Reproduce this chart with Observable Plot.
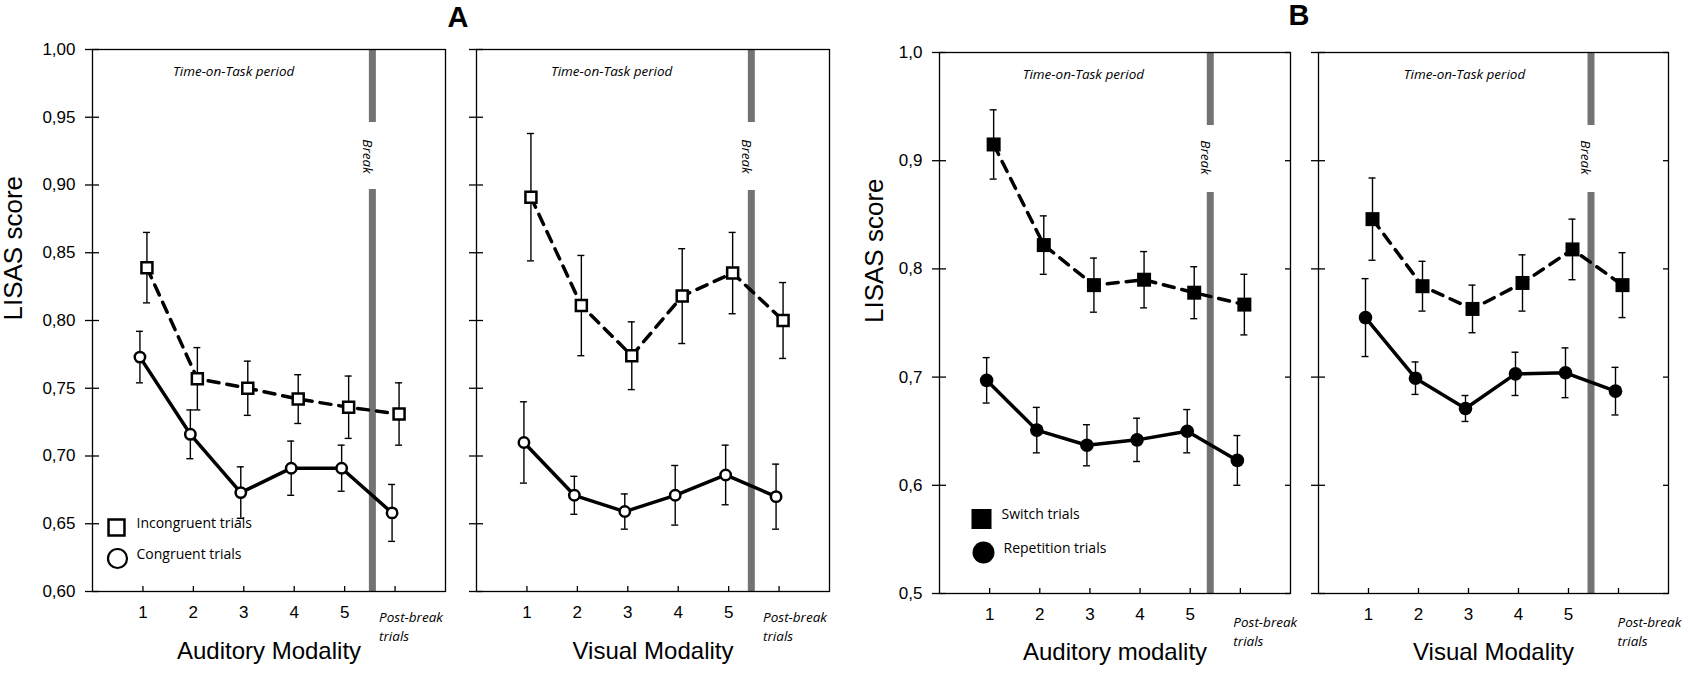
<!DOCTYPE html>
<html>
<head>
<meta charset="utf-8">
<script src="https://cdn.jsdelivr.net/npm/d3@7"></script>
<script src="https://cdn.jsdelivr.net/npm/@observablehq/plot@0.6"></script>
<style>
  body { margin: 0; background: #fff; width: 1689px; height: 674px; overflow: hidden; position: relative; }
  .panel { position: absolute; top: 0; }
  .tag { position: absolute; width: 100px; text-align: center; font: bold 29px "Liberation Sans", Arial, sans-serif; line-height: 29px; color: #000; }
</style>
</head>
<body>
<div class="tag" style="left:408px; top:3px;">A</div>
<div class="tag" style="left:1249px; top:1px;">B</div>
<div id="p1" class="panel" style="left:0px"></div>
<div id="p2" class="panel" style="left:460px"></div>
<div id="p3" class="panel" style="left:850px"></div>
<div id="p4" class="panel" style="left:1310px"></div>
<script>
// ---- categories & labels ----
const trials = [1, 2, 3, 4, 5, 6];            // 6 = post-break trials
const xTickValues = [1, 2, 3, 4, 5];
const postBreakLabel = "Post-break\ntrials";
const periodLabel = "Time-on-Task period";
const breakLabel = "Break";
const yLabel = "LISAS score";
const yTicksA = [0.60, 0.65, 0.70, 0.75, 0.80, 0.85, 0.90, 0.95, 1.00];
const yTicksB = [0.5, 0.6, 0.7, 0.8, 0.9, 1.0];

// ---- Panel A: congruency ----
const audIncongruent    = [0.839, 0.757, 0.750, 0.742, 0.736, 0.731];
const audIncongruentErr = [0.026, 0.023, 0.020, 0.018, 0.023, 0.023];
const audCongruent      = [0.773, 0.716, 0.673, 0.691, 0.691, 0.658];
const audCongruentErr   = [0.019, 0.018, 0.019, 0.020, 0.017, 0.021];
const visIncongruent    = [0.891, 0.811, 0.774, 0.818, 0.835, 0.800];
const visIncongruentErr = [0.047, 0.037, 0.025, 0.035, 0.030, 0.028];
const visCongruent      = [0.710, 0.671, 0.659, 0.671, 0.686, 0.670];
const visCongruentErr   = [0.030, 0.014, 0.013, 0.022, 0.022, 0.024];

// ---- Panel B: task switching ----
const audSwitch         = [0.915, 0.822, 0.785, 0.790, 0.778, 0.767];
const audSwitchErr      = [0.032, 0.027, 0.025, 0.026, 0.024, 0.028];
const audRepetition     = [0.697, 0.651, 0.637, 0.642, 0.650, 0.623];
const audRepetitionErr  = [0.021, 0.021, 0.019, 0.020, 0.020, 0.023];
const visSwitch         = [0.846, 0.784, 0.763, 0.787, 0.818, 0.785];
const visSwitchErr      = [0.038, 0.023, 0.022, 0.026, 0.028, 0.030];
const visRepetition     = [0.755, 0.699, 0.671, 0.703, 0.704, 0.687];
const visRepetitionErr  = [0.036, 0.015, 0.012, 0.020, 0.023, 0.022];

const legendA = ["Incongruent trials", "Congruent trials"];
const legendB = ["Switch trials", "Repetition trials"];

const FONT = "Liberation Sans, Arial, sans-serif";
const NOTE = "Open Sans, Noto Sans, sans-serif";
const BAR = "#737373";

function rows(vals, errs) {
  return trials.map((t, i) => ({ t, v: vals[i], lo: vals[i] - errs[i], hi: vals[i] + errs[i] }));
}

function panel(c) {
  const top = rows(c.top, c.topErr);
  const bot = rows(c.bot, c.botErr);
  const [y0, y1] = c.yDomain;
  const filled = c.filled;
  const marks = [];

  // break bar: two segments leaving a gap for the label
  marks.push(Plot.ruleX([c.breakX], { x: d => d, y1: y1, y2: y1, insetBottom: -c.gapTop, stroke: BAR, strokeWidth: 7 }));
  marks.push(Plot.ruleX([c.breakX], { x: d => d, y1: y0, y2: y0, insetTop: -c.gapBottom, stroke: BAR, strokeWidth: 7 }));
  marks.push(Plot.text([breakLabel], {
    x: c.breakX, frameAnchor: "top", dy: c.breakDy, rotate: 90,
    fontSize: 13.5, fontStyle: "italic", fontFamily: NOTE, fill: "#000"
  }));

  // frame
  marks.push(Plot.frame({ stroke: "#000", strokeWidth: 1.3 }));
  // left ticks crossing the axis
  marks.push(Plot.ruleY(c.yTicks, { y: d => d, x1: 0, x2: 0, insetLeft: -7, insetRight: -7, stroke: "#000", strokeWidth: 1.3 }));
  // right inward ticks
  if (c.rightTicks) {
    marks.push(Plot.ruleY(c.yTicks, { y: d => d, x1: 7, x2: 7, insetLeft: -5, stroke: "#000", strokeWidth: 1.3 }));
  }
  // bottom inward ticks
  marks.push(Plot.ruleX(trials, { x: d => d, y1: y0, y2: y0, insetTop: -5, stroke: "#000", strokeWidth: 1.3 }));

  // tick labels
  if (c.yLabels) {
    marks.push(Plot.axisY(c.yTicks, {
      tickSize: 0, tickPadding: 17, fontSize: 17, label: null,
      tickFormat: c.yFormat
    }));
    marks.push(Plot.text([yLabel], {
      frameAnchor: "left", dx: c.yLabelDx, rotate: -90, fontSize: 26, fontFamily: FONT, fill: "#000"
    }));
  }
  marks.push(Plot.axisX(xTickValues, { tickSize: 0, tickPadding: 14, fontSize: 17, label: null }));
  marks.push(Plot.text([postBreakLabel], {
    x: 6, frameAnchor: "bottom", textAnchor: "start", lineAnchor: "top",
    dx: c.postDx, dy: c.postDy, lineHeight: 1.42,
    fontSize: 13.5, fontStyle: "italic", fontFamily: NOTE, fill: "#000"
  }));
  marks.push(Plot.text([c.xTitle], {
    frameAnchor: "bottom", dy: c.xTitleDy, fontSize: 24, fontFamily: FONT, fill: "#000"
  }));
  marks.push(Plot.text([periodLabel], {
    x: c.periodX, frameAnchor: "top", dy: 17,
    fontSize: 13.5, fontStyle: "italic", fontFamily: NOTE, fill: "#000"
  }));

  // lines
  marks.push(Plot.line(bot, { x: "t", y: "v", stroke: "#000", strokeWidth: 3.5, dx: -3 }));
  marks.push(Plot.line(top, { x: "t", y: "v", stroke: "#000", strokeWidth: 3.5, strokeDasharray: "11,8", dx: 4 }));

  // error bars
  for (const [data, dx] of [[top, 4], [bot, -3]]) {
    marks.push(Plot.ruleX(data, { x: "t", y1: "lo", y2: "hi", stroke: "#000", strokeWidth: 1.4, dx }));
    marks.push(Plot.ruleY(data, { y: "hi", x1: "t", x2: "t", insetLeft: -3.5, insetRight: -3.5, stroke: "#000", strokeWidth: 1.4, dx }));
    marks.push(Plot.ruleY(data, { y: "lo", x1: "t", x2: "t", insetLeft: -3.5, insetRight: -3.5, stroke: "#000", strokeWidth: 1.4, dx }));
  }

  // markers
  if (filled) {
    marks.push(Plot.dot(bot, { x: "t", y: "v", r: 6.8, fill: "#000", dx: -3 }));
    marks.push(Plot.dot(top, { x: "t", y: "v", r: 7.9, symbol: "square", fill: "#000", dx: 4 }));
  } else {
    marks.push(Plot.dot(bot, { x: "t", y: "v", r: 5.2, fill: "#fff", stroke: "#000", strokeWidth: 2.5, dx: -3 }));
    marks.push(Plot.dot(top, { x: "t", y: "v", r: 6.2, symbol: "square", fill: "#fff", stroke: "#000", strokeWidth: 2.5, dx: 4 }));
  }

  // legend
  if (c.legend) {
    const L = c.legend;
    const sq = filled ? { fill: "#000" } : { fill: "#fff", stroke: "#000", strokeWidth: 2.5 };
    const ci = filled ? { fill: "#000" } : { fill: "#fff", stroke: "#000", strokeWidth: 2.2 };
    marks.push(Plot.dot([L.items[0]], { frameAnchor: "bottom-left", dx: L.sqDx, dy: L.sqDy, r: L.sqR, symbol: "square", ...sq }));
    marks.push(Plot.dot([L.items[1]], { frameAnchor: "bottom-left", dx: L.ciDx, dy: L.ciDy, r: L.ciR, ...ci }));
    marks.push(Plot.text([L.items[0]], { frameAnchor: "bottom-left", dx: L.txDx, dy: L.sqDy, textAnchor: "start", fontSize: 14, fontFamily: NOTE, fill: "#000" }));
    marks.push(Plot.text([L.items[1]], { frameAnchor: "bottom-left", dx: L.txDx2, dy: L.ciDy, textAnchor: "start", fontSize: 14, fontFamily: NOTE, fill: "#000" }));
  }

  const svg = Plot.plot({
    width: c.width, height: 674,
    marginLeft: c.ml, marginRight: c.mr, marginTop: c.mt, marginBottom: 674 - c.bottom,
    style: { fontFamily: FONT, color: "#000", background: "transparent", overflow: "visible" },
    x: { domain: [0, 7], axis: null },
    y: { domain: c.yDomain, axis: null },
    marks
  });
  document.getElementById(c.id).appendChild(svg);
}

const fmtA = d => d.toFixed(2).replace(".", ",");
const fmtB = d => d.toFixed(1).replace(".", ",");

panel({
  id: "p1", width: 460, ml: 92, mr: 15, mt: 49, bottom: 591,
  yDomain: [0.6, 1.0], yTicks: yTicksA, yLabels: true, yFormat: fmtA, yLabelDx: -79,
  top: audIncongruent, topErr: audIncongruentErr, bot: audCongruent, botErr: audCongruentErr,
  filled: false, breakX: 5.55, breakDy: 107, gapTop: 73, gapBottom: 402,
  periodX: 2.8, postDx: -16, postDy: 17,
  xTitle: "Auditory Modality", xTitleDy: 67,
  legend: { items: legendA, sqDx: 24, sqDy: -64, sqR: 9, ciDx: 25, ciDy: -33, ciR: 9.5, txDx: 44, txDx2: 44 }
});
panel({
  id: "p2", width: 390, ml: 16, mr: 21, mt: 49, bottom: 591,
  yDomain: [0.6, 1.0], yTicks: yTicksA, yLabels: false,
  top: visIncongruent, topErr: visIncongruentErr, bot: visCongruent, botErr: visCongruentErr,
  filled: false, breakX: 5.45, breakDy: 107, gapTop: 73, gapBottom: 401,
  periodX: 2.68, postDx: -16, postDy: 17,
  xTitle: "Visual Modality", xTitleDy: 67
});
panel({
  id: "p3", width: 460, ml: 89, mr: 20, mt: 52, bottom: 593,
  yDomain: [0.5, 1.0], yTicks: yTicksB, yLabels: true, yFormat: fmtB, yLabelDx: -65, rightTicks: true,
  top: audSwitch, topErr: audSwitchErr, bot: audRepetition, botErr: audRepetitionErr,
  filled: true, breakX: 5.4, breakDy: 105, gapTop: 73, gapBottom: 401,
  periodX: 2.87, postDx: -7, postDy: 20,
  xTitle: "Auditory modality", xTitleDy: 66,
  legend: { items: legendB, sqDx: 42, sqDy: -74.5, sqR: 11.3, ciDx: 44, ciDy: -41, ciR: 11, txDx: 62, txDx2: 64 }
});
panel({
  id: "p4", width: 379, ml: 8, mr: 21, mt: 52, bottom: 593,
  yDomain: [0.5, 1.0], yTicks: yTicksB, yLabels: false, rightTicks: true,
  top: visSwitch, topErr: visSwitchErr, bot: visRepetition, botErr: visRepetitionErr,
  filled: true, breakX: 5.45, breakDy: 105, gapTop: 73, gapBottom: 401,
  periodX: 2.92, postDx: -1, postDy: 20,
  xTitle: "Visual Modality", xTitleDy: 66
});
</script>
</body>
</html>
